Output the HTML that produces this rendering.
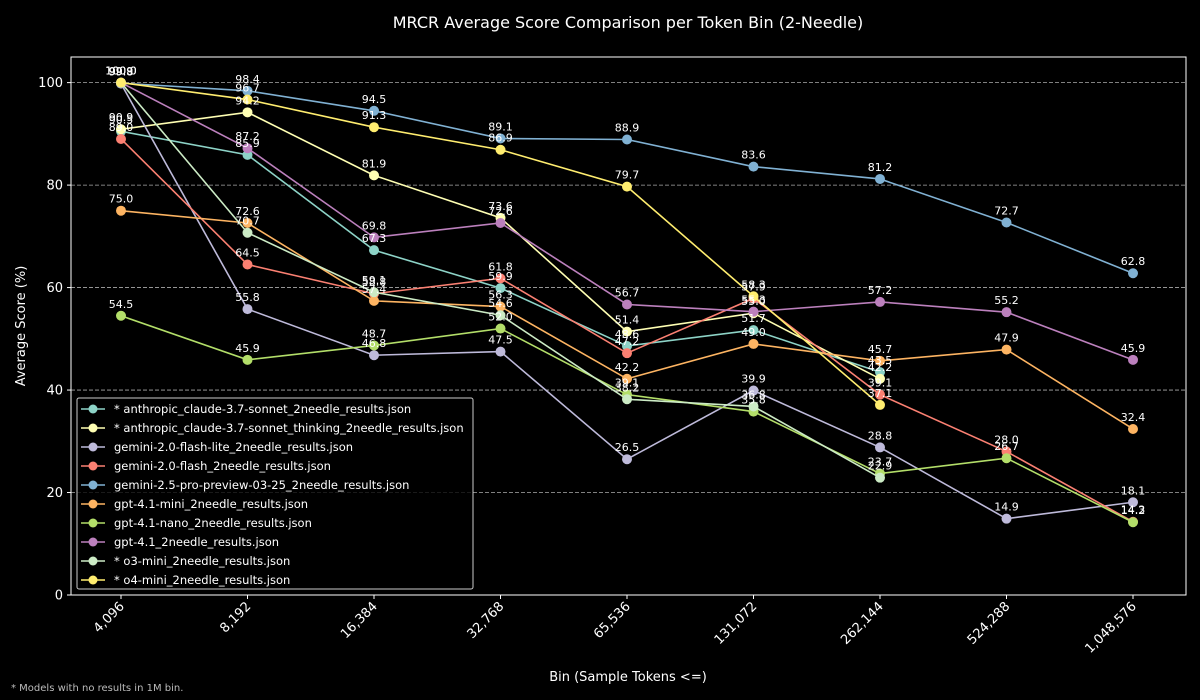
<!DOCTYPE html>
<html><head><meta charset="utf-8"><style>
html,body{margin:0;padding:0;background:#000;}
svg{display:block;font-family:"DejaVu Sans","Liberation Sans",sans-serif;}
</style></head><body>
<svg id="chart" width="1200" height="700" viewBox="0 0 1200 700">
<rect width="1200" height="700" fill="#000"/>
<text x="628" y="28" fill="#fff" font-size="16" text-anchor="middle">MRCR Average Score Comparison per Token Bin (2-Needle)</text>
<g id="grid"></g>
<g id="series"></g>
<g id="labels"></g>
<rect x="71" y="57" width="1115" height="538" fill="none" stroke="#fff" stroke-width="1"/>
<g id="axes"></g>
<text x="628" y="681" fill="#fff" font-size="13" text-anchor="middle">Bin (Sample Tokens &lt;=)</text>
<text transform="translate(25,326) rotate(-90)" fill="#fff" font-size="13" text-anchor="middle">Average Score (%)</text>
<text x="11" y="691" fill="#bbb" font-size="10">* Models with no results in 1M bin.</text>
<g id="legend"></g>
</svg>
<script>
const categories = ["4,096","8,192","16,384","32,768","65,536","131,072","262,144","524,288","1,048,576"];
const yTicks = [0,20,40,60,80,100];
const names = ["* anthropic_claude-3.7-sonnet_2needle_results.json","* anthropic_claude-3.7-sonnet_thinking_2needle_results.json","gemini-2.0-flash-lite_2needle_results.json","gemini-2.0-flash_2needle_results.json","gemini-2.5-pro-preview-03-25_2needle_results.json","gpt-4.1-mini_2needle_results.json","gpt-4.1-nano_2needle_results.json","gpt-4.1_2needle_results.json","* o3-mini_2needle_results.json","* o4-mini_2needle_results.json"];
const colors = ["#8dd3c7","#ffffb3","#bebada","#fb8072","#80b1d3","#fdb462","#b3de69","#bc80bd","#ccebc5","#ffed6f"];
const claude = [90.5,85.9,67.3,59.9,48.6,51.7,43.5];
const claudeThinking = [90.9,94.2,81.9,73.6,51.4,55.0,42.2];
const flashLite = [99.8,55.8,46.8,47.5,26.5,39.9,28.8,14.9,18.1];
const flash = [89.0,64.5,58.8,61.8,47.2,57.9,39.1,28.0,14.3];
const pro25 = [99.9,98.4,94.5,89.1,88.9,83.6,81.2,72.7,62.8];
const mini41 = [75.0,72.6,57.4,56.3,42.2,49.0,45.7,47.9,32.4];
const nano41 = [54.5,45.9,48.7,52.0,39.1,35.8,23.7,26.7,14.2];
const gpt41 = [100.0,87.2,69.8,72.6,56.7,55.3,57.2,55.2,45.9];
const o3mini = [100.0,70.7,59.1,54.6,38.2,36.8,22.9];
const o4mini = [100.0,96.7,91.3,86.9,79.7,58.3,37.1];
const seriesData = [claude,claudeThinking,flashLite,flash,pro25,mini41,nano41,gpt41,o3mini,o4mini];

const NS="http://www.w3.org/2000/svg";
const L=71,R=1186,T=57,B=595,YMAX=105;
const xs=i=>121+i*(1133-121)/(categories.length-1);
const ys=v=>B-(v/YMAX)*(B-T);
function mk(tag,attrs,parent,text){const e=document.createElementNS(NS,tag);for(const k in attrs)e.setAttribute(k,attrs[k]);if(text!==undefined)e.textContent=text;parent.appendChild(e);return e;}
const grid=document.getElementById('grid'),axes=document.getElementById('axes'),sg=document.getElementById('series'),lg=document.getElementById('labels'),leg=document.getElementById('legend');
yTicks.forEach(t=>{
  const y=ys(t);
  if(t>0){const g=mk('line',{x1:L,x2:R,y1:y,y2:y,stroke:'#aaa','stroke-width':0.8,'stroke-dasharray':'4,2'},grid);
  
  }
  const tk=mk('line',{x1:L-4,x2:L,y1:y,y2:y,stroke:'#fff'},axes);
  
  
  const tl=mk('text',{x:L-8,y:y+4.5,fill:'#fff','font-size':13,'text-anchor':'end'},axes,String(t));
  
  
});
categories.forEach((c,i)=>{
  const x=xs(i);
  const tk=mk('line',{x1:x,x2:x,y1:B,y2:B+4,stroke:'#fff'},axes);
  
  
  const tl=mk('text',{transform:`translate(${x+4},${B+12}) rotate(-45)`,fill:'#fff','font-size':13,'text-anchor':'end'},axes,c);
  
  
});
seriesData.forEach((d,s)=>{
  const pts=d.map((v,i)=>xs(i)+','+ys(v)).join(' ');
  const pl=mk('polyline',{points:pts,fill:'none',stroke:colors[s],'stroke-width':1.6},sg);
  
  
  d.forEach((v,i)=>{
    const c=mk('circle',{cx:xs(i),cy:ys(v),r:5,fill:colors[s]},sg);
    
    
    const t=mk('text',{x:xs(i),y:ys(v)-8,fill:'#fff','font-size':11,'text-anchor':'middle'},lg,v.toFixed(1));
    
    
  });
});
const box=mk('rect',{x:77,y:398,width:396,height:191,fill:'#000','fill-opacity':0.8,stroke:'#ccc','stroke-width':1,rx:2},leg);


names.forEach((n,i)=>{
  const y=409+i*19;
  const g=mk('g',{},leg);
  
  
  mk('line',{x1:81,x2:105,y1:y,y2:y,stroke:colors[i],'stroke-width':1.6},g);
  mk('circle',{cx:93,cy:y,r:4.5,fill:colors[i]},g);
  mk('text',{x:114,y:y+4,fill:'#fff','font-size':11.5},g,n);
});
</script>
</body></html>
